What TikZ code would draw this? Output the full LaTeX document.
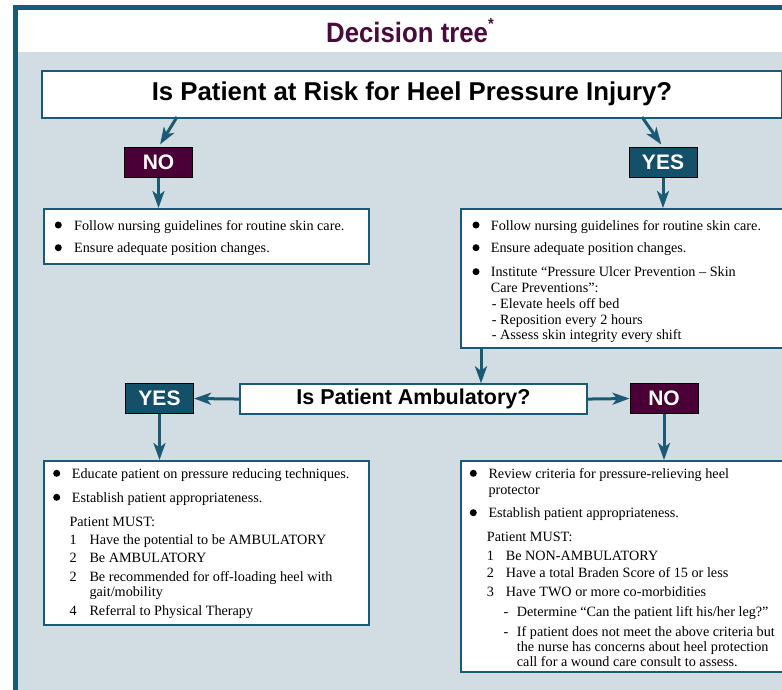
\documentclass[tikz,border=0pt]{standalone}
\usepackage{fontspec}
\setmainfont{Liberation Serif}
\setsansfont{Liberation Sans}
\usetikzlibrary{arrows.meta}
\definecolor{tealline}{HTML}{1B5A74}
\definecolor{tealfill}{HTML}{15506A}
\definecolor{plum}{HTML}{4A0036}
\definecolor{bgc}{HTML}{D1DCE3}
\definecolor{titlec}{HTML}{4A0A3C}
\newcommand\mytl[4]{\node[txt] (#1) at (#2,#3) {#4};}
\newcommand\mybul[2]{\fill (#1,#2) circle (3.5pt);}
\begin{document}
\begin{tikzpicture}[x=1pt,y=-1pt,
  box/.style={draw=tealline,line width=2pt,fill=white,rectangle,inner sep=0pt,anchor=north west},
  ansno/.style={draw=black,line width=1pt,fill=plum,text=white,
    font=\sffamily\bfseries\fontsize{21}{21}\selectfont,
    minimum width=68pt,minimum height=30pt,inner sep=0pt,anchor=north west},
  ansyes/.style={ansno,fill=tealfill},
  arr/.style={draw=tealline,line width=3pt,-{Stealth[length=17pt,width=12pt,inset=4.5pt]}},
  txt/.style={anchor=base west,inner sep=0pt,font=\fontsize{14.2}{16}\selectfont}]
\useasboundingbox (0,0) rectangle (782,689);
\clip (0,0) rectangle (782,689);
% frame and background
\fill[white] (0,0) rectangle (782,689);
\fill[white] (15.8,7.5) rectangle (800,51.7);
\fill[bgc] (15.8,51.7) rectangle (800,700);
\draw[tealline,line width=5pt] (15.8,700) -- (15.8,7.5) -- (800,7.5);
% title
\node[anchor=base,inner sep=0pt,text=titlec,font=\sffamily\bfseries\fontsize{28}{28}\selectfont]
  (title) at (410,42) {\scalebox{0.92}[1]{Decision tree\raisebox{0.45em}{\fontsize{16}{16}\selectfont*}}};
% question 1
\node[box,minimum width=740pt,minimum height=46.5pt,
  font=\sffamily\bfseries\fontsize{25.8}{25.8}\selectfont] (q1) at (41,70)
  {Is Patient at Risk for Heel Pressure Injury?};
\node[ansno] (no1) at (124,147) {NO};
\node[ansyes] (yes1) at (628.5,147) {YES};
% boxes
\node[box,minimum width=325pt,minimum height=55pt] (b1) at (43,208) {};
\node[box,minimum width=360pt,minimum height=139.3pt] (b2) at (460,208) {};
\node[box,minimum width=347pt,minimum height=29.5pt,
  font=\sffamily\bfseries\fontsize{21.5}{21.5}\selectfont] (amb) at (239,383.3)
  {Is Patient Ambulatory?};
\node[ansyes] (yes2) at (125,383) {YES};
\node[ansno] (no2) at (629.5,383) {NO};
\node[box,minimum width=325pt,minimum height=164pt] (b3) at (43,460) {};
\node[box,minimum width=360pt,minimum height=210.7pt] (b4) at (460,460) {};
% connectors
\coordinate (c1) at (177,117);
\coordinate (c2) at (642,117);
\coordinate (c3) at (481,348);
\draw[arr,shorten >=3pt] (c1) -- (no1.north);
\draw[arr,shorten >=3pt] (c2) -- (yes1.north);
\draw[arr] (no1.south) -- (no1.south |- b1.north);
\draw[arr] (yes1.south) -- (yes1.south |- b2.north);
\draw[arr] (c3) -- (c3 |- amb.north);
\draw[arr] (amb.west) -- (yes2.east);
\draw[arr] (amb.east) -- (no2.west);
\draw[arr] (yes2.south) -- (yes2.south |- b3.north);
\draw[arr] (no2.south) -- (no2.south |- b4.north);
% box 1 text
\mybul{58.3}{225}
\mytl{b1a}{74}{230}{Follow nursing guidelines for routine skin care.}
\mybul{58.3}{247.7}
\mytl{b1b}{74}{252.7}{Ensure adequate position changes.}
% box 2 text
\mybul{476}{225}
\mytl{b2a}{490.7}{230}{Follow nursing guidelines for routine skin care.}
\mybul{476}{247.7}
\mytl{b2b}{490.7}{252.7}{Ensure adequate position changes.}
\mybul{476}{271.7}
\mytl{b2c}{490.7}{276.7}{Institute “Pressure Ulcer Prevention – Skin}
\mytl{b2d}{490.7}{292.3}{Care Preventions”:}
\mytl{b2e}{491.7}{308.3}{- Elevate heels off bed}
\mytl{b2f}{491.7}{324}{- Reposition every 2 hours}
\mytl{b2g}{491.7}{339.3}{- Assess skin integrity every shift}
% box 3 text
\mybul{56.7}{473.3}
\mytl{b3a}{71.7}{478.3}{Educate patient on pressure reducing techniques.}
\mybul{56.7}{497.3}
\mytl{b3b}{71.7}{502.3}{Establish patient appropriateness.}
\mytl{b3c}{69.3}{526}{Patient MUST:}
\mytl{b3n1}{69.3}{544}{1}
\mytl{b3t1}{89.3}{544}{Have the potential to be AMBULATORY}
\mytl{b3n2}{69.3}{562}{2}
\mytl{b3t2}{89.3}{562}{Be AMBULATORY}
\mytl{b3n3}{69.3}{581.7}{2}
\mytl{b3t3}{89.3}{581.7}{Be recommended for off-loading heel with}
\mytl{b3t3b}{89.3}{596.7}{gait/mobility}
\mytl{b3n4}{69.3}{615.7}{4}
\mytl{b3t4}{89.3}{615.7}{Referral to Physical Therapy}
% box 4 text
\mybul{473.3}{473.3}
\mytl{b4a}{488.3}{478.3}{Review criteria for pressure-relieving heel}
\mytl{b4a2}{488.3}{494}{protector}
\mybul{473.3}{512.7}
\mytl{b4b}{488.3}{517.7}{Establish patient appropriateness.}
\mytl{b4c}{486.7}{541.7}{Patient MUST:}
\mytl{b4n1}{486.7}{560}{1}
\mytl{b4t1}{505.7}{560}{Be NON-AMBULATORY}
\mytl{b4n2}{486.7}{577.7}{2}
\mytl{b4t2}{505.7}{577.7}{Have a total Braden Score of 15 or less}
\mytl{b4n3}{486.7}{596.7}{3}
\mytl{b4t3}{505.7}{596.7}{Have TWO or more co-morbidities}
\mytl{b4d1}{503.3}{616}{-}
\mytl{b4e1}{516.7}{616}{Determine “Can the patient lift his/her leg?”}
\mytl{b4d2}{503.3}{636}{-}
\mytl{b4e2}{516.7}{636}{If patient does not meet the above criteria but}
\mytl{b4e3}{516.7}{651}{the nurse has concerns about heel protection}
\mytl{b4e4}{516.7}{666}{call for a wound care consult to assess.}
\end{tikzpicture}
\end{document}
